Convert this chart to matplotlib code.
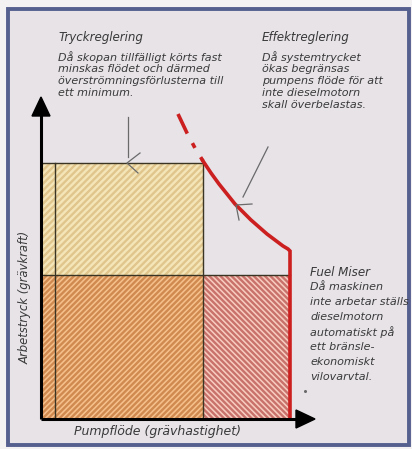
import matplotlib.pyplot as plt
from matplotlib.patches import Rectangle, Polygon

# values (units: arbitrary, origin at axis corner)
flow_min = 14          # thin inner vertical line
flow_press_reg = 162   # flow where pressure regulation cuts in
flow_max = 249         # max pump flow (red vertical)
press_low = 144        # working pressure, lower band
press_high = 256       # working pressure, upper band

curve_flow = [137, 146, 154, 162, 170, 178, 186, 194, 202, 210, 218, 226,
              234, 242, 247, 249]
curve_press = [305, 286, 271, 258, 246, 235, 225, 215, 207, 199, 192, 185,
               179, 173, 170, 168]
n_dashed = 4           # first points drawn dashed

title_tryck = "Tryckreglering"
text_tryck = ["Då skopan tillfälligt körts fast",
              "minskas flödet och därmed",
              "överströmningsförlusterna till",
              "ett minimum."]
title_effekt = "Effektreglering"
text_effekt = ["Då systemtrycket", "ökas begränsas", "pumpens flöde för att",
               "inte dieselmotorn", "skall överbelastas."]
title_fuel = "Fuel Miser"
text_fuel = ["Då maskinen", "inte arbetar ställs", "dieselmotorn",
             "automatiskt på", "ett bränsle-", "ekonomiskt", "vilovarvtal."]
xlabel = "Pumpflöde (grävhastighet)"
ylabel = "Arbetstryck (grävkraft)"

W, H = 412, 449
ox, oy = 41, 419   # pixel position of the axis origin

plt.rcParams['font.family'] = ['DejaVu Sans']
plt.rcParams['hatch.linewidth'] = 1.7

fig = plt.figure(figsize=(W / 100, H / 100), dpi=100)
fig.patch.set_facecolor('#f3f1f1')
ax = fig.add_axes([0, 0, 1, 1])
ax.set_xlim(-ox, W - ox)
ax.set_ylim(-(H - oy), oy)
ax.axis('off')


def fx(px):
    return px / W


def fy(py):
    return 1 - py / H


# frame
fig.patches.append(Rectangle((fx(8), fy(445)), (409 - 8) / W, (445 - 9) / H,
                             transform=fig.transFigure, facecolor='#e7e3e7',
                             edgecolor='#56608f', lw=2.8, zorder=-1))

edge = '#3a3424'
# upper band (yellow)
ax.add_patch(Rectangle((0, press_low), flow_press_reg, press_high - press_low,
                       facecolor='#f5e6ba', edgecolor='#e0c58c', hatch='/////', lw=0))
# lower band (orange)
ax.add_patch(Rectangle((0, 0), flow_press_reg, press_low,
                       facecolor='#f6c18c', edgecolor='#d08a50', hatch='//////', lw=0))
# lower band right part (red)
ax.add_patch(Rectangle((flow_press_reg, 0), flow_max - flow_press_reg, press_low,
                       facecolor='#f8cdc0', edgecolor='#c8726b', hatch='\\\\\\\\\\\\', lw=0))

# outlines
ax.plot([0, flow_press_reg, flow_press_reg], [press_high, press_high, 0], color=edge, lw=1.0)
ax.plot([0, flow_max], [press_low, press_low], color=edge, lw=1.0)
ax.plot([flow_min, flow_min], [0, press_high], color=edge, lw=1.0)

# power curve
red = '#cc1f1f'
ax.plot(curve_flow[:n_dashed], curve_press[:n_dashed], color=red, lw=2.6,
        dashes=(6, 3, 1.5, 3))
ax.plot(curve_flow[n_dashed - 1:] + [flow_max], curve_press[n_dashed - 1:] + [0],
        color=red, lw=2.6, solid_joinstyle='miter')

# axes with arrow heads
ax.plot([0, 0], [0, 304], color='black', lw=2.2, solid_capstyle='butt')
ax.plot([0, 257], [0, 0], color='black', lw=2.2, solid_capstyle='butt')
ax.add_patch(Polygon([(-9, 303), (9, 303), (0, 322)], closed=True, color='black'))
ax.add_patch(Polygon([(255, 9), (255, -9), (274, 0)], closed=True, color='black'))

# leader lines and chevrons
grey = '#6a6a6a'
ax.plot([87, 87], [302, 262], color=grey, lw=0.9)
ax.plot([99, 86, 97], [266, press_high, 246], color=grey, lw=0.9)
ax.plot([227, 202], [272, 222], color=grey, lw=0.9)
ax.plot([211, 195, 198], [215, 214, 199], color=grey, lw=0.9)
ax.plot([264], [28], marker='o', ms=1.2, color=grey)

# texts
tc = '#3a3a3a'
fbody, ftitle = 8.0, 8.6
fig.text(fx(58), fy(38), title_tryck, fontsize=ftitle, style='italic', color=tc, va='center')
for i, s in enumerate(text_tryck):
    fig.text(fx(58), fy(57 + 12 * i), s, fontsize=fbody, style='italic', color=tc, va='center')
fig.text(fx(262), fy(38), title_effekt, fontsize=ftitle, style='italic', color=tc, va='center')
for i, s in enumerate(text_effekt):
    fig.text(fx(262), fy(57 + 12 * i), s, fontsize=fbody, style='italic', color=tc, va='center')
fig.text(fx(310), fy(272), title_fuel, fontsize=ftitle, style='italic', color=tc, va='center')
for i, s in enumerate(text_fuel):
    fig.text(fx(310), fy(287 + 15 * i), s, fontsize=fbody, style='italic', color=tc, va='center')

fig.text(fx(157), fy(432), xlabel, fontsize=9.0, style='italic', color=tc,
         ha='center', va='center')
fig.text(fx(25), fy(297), ylabel, fontsize=8.4, style='italic', color=tc,
         ha='center', va='center', rotation=90)

fig.savefig('out.png', dpi=100, facecolor=fig.get_facecolor())
